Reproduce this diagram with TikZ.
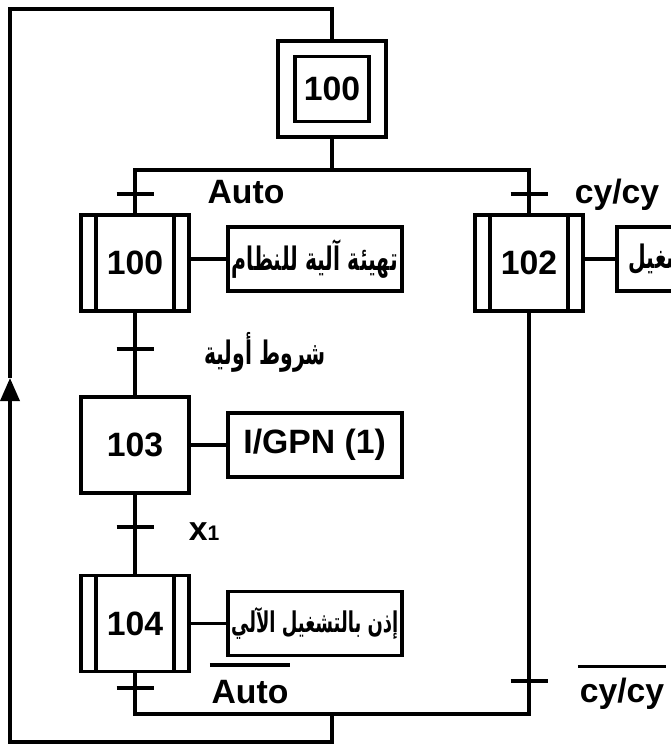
\documentclass[tikz,border=0pt]{standalone}
\usepackage{fontspec}
\setmainfont{Liberation Sans}
\newfontfamily\arabicfont[Script=Arabic, FakeStretch=0.63]{DejaVu Sans}
\TeXXeTstate=1
\usetikzlibrary{positioning, arrows.meta}

\begin{document}
\begin{tikzpicture} [
    x=0.025cm, y=0.025cm,
    node distance=0.875cm,
    line width=2.6pt,
    every node/.style={font=\fontsize{24}{28}\selectfont\bfseries},
    arabic/.style={font=\fontsize{23}{27}\selectfont\bfseries\arabicfont},
    initstep/.style={rectangle, draw, minimum width=2.7cm, minimum height=2.4cm},
    initinner/.style={rectangle, draw, minimum width=1.85cm, minimum height=1.625cm},
    stepbox/.style={rectangle, draw, minimum width=2.7cm, minimum height=2.4cm},
    macrostep/.style={stepbox, path picture={
        \draw[line width=2.6pt] ([xshift=0.375cm]path picture bounding box.north west) -- ([xshift=0.375cm]path picture bounding box.south west);
        \draw[line width=2.6pt] ([xshift=-0.375cm]path picture bounding box.north east) -- ([xshift=-0.375cm]path picture bounding box.south east);}},
    action/.style={rectangle, draw, minimum width=4.35cm, minimum height=1.6cm, inner sep=2pt},
    cond/.style={inner sep=0pt},
    flow/.style={-{Triangle[width=0.475cm, length=0.575cm]}}
]
\useasboundingbox (0,0) rectangle (671,745);

% Steps
\node[initstep] (init) at (332,656) {};
\node[initinner] (initin) at (init) {100};
\node[macrostep] (s100) at (135,482) {100};
\node[stepbox, below=2.05cm of s100] (s103) {103};
\node[macrostep, below=1.975cm of s103] (s104) {104};
\node[macrostep] (s102) at (529,482) {102};

% Actions
\node[action, arabic, right=of s100, yshift=0.1cm] (a100) {\beginR تهيئة آلية للنظام\endR};
\node[action, arabic, right=0.75cm of s102, yshift=0.1cm, minimum width=0pt, inner xsep=0.3cm] (a102) {\beginR تشغيل\endR};
\node[action, right=of s103] (a103) {I/GPN (1)};
\node[action, arabic, right=of s104] (a104) {\fontsize{20.3}{24}\selectfont\beginR إذن بالتشغيل الآلي\endR};

% Receptivities
\node[cond] (cauto) at (246,553) {Auto};
\node[cond] (ccy) at (617,550) {cy/cy};
\node[cond, arabic] (cinit) at (265,393) {\beginR شروط أولية\endR};
\node[cond] (cx) at (204,213) {x{\fontsize{15}{17}\selectfont 1}};
\node[cond] (cnauto) at (250,53) {Auto};
\node[cond] (cncy) at (622,51.5) {cy/cy};

% Divergence and convergence
\coordinate (divL) at (135,575);
\coordinate (divR) at (529,575);
\coordinate (convL) at (135,31);
\coordinate (convR) at (529,31);
\draw (init.south) -- (init.south |- divL);
\draw (s100.north) -- (divL) -- (divR) -- (s102.north);
\draw (s100.south) -- (s103.north);
\draw (s103.south) -- (s104.north);
\draw (s104.south) -- (convL) -- (convR) -- (s102.south);

% Links to actions
\draw (a100.west -| s100.east) -- (a100.west);
\draw (a102.west -| s102.east) -- (a102.west);
\draw (s103.east) -- (a103.west);
\draw (s104.east) -- (a104.west);

% Transitions
\foreach \tx/\ty in {135/551, 529/551, 135/396, 135/218, 135/57, 529/64}
    \draw (\tx,\ty) ++(-18.5,0) -- ++(37,0);

% Negations
\draw ([yshift=0.675cm]cnauto.west) -- ([yshift=0.675cm]cnauto.east);
\draw ([yshift=0.675cm]cncy.west) -- ([yshift=0.675cm]cncy.east);

% Loop back
\coordinate (loopB) at (10,3);
\coordinate (loopA) at (10,367);
\coordinate (loopT) at (10,736);
\draw[flow] (init.south |- convL) -- (init.south |- loopB) -- (loopB) -- (loopA);
\draw (loopA) -- (loopT) -- (init.north |- loopT) -- (init.north);

\end{tikzpicture}
\end{document}
